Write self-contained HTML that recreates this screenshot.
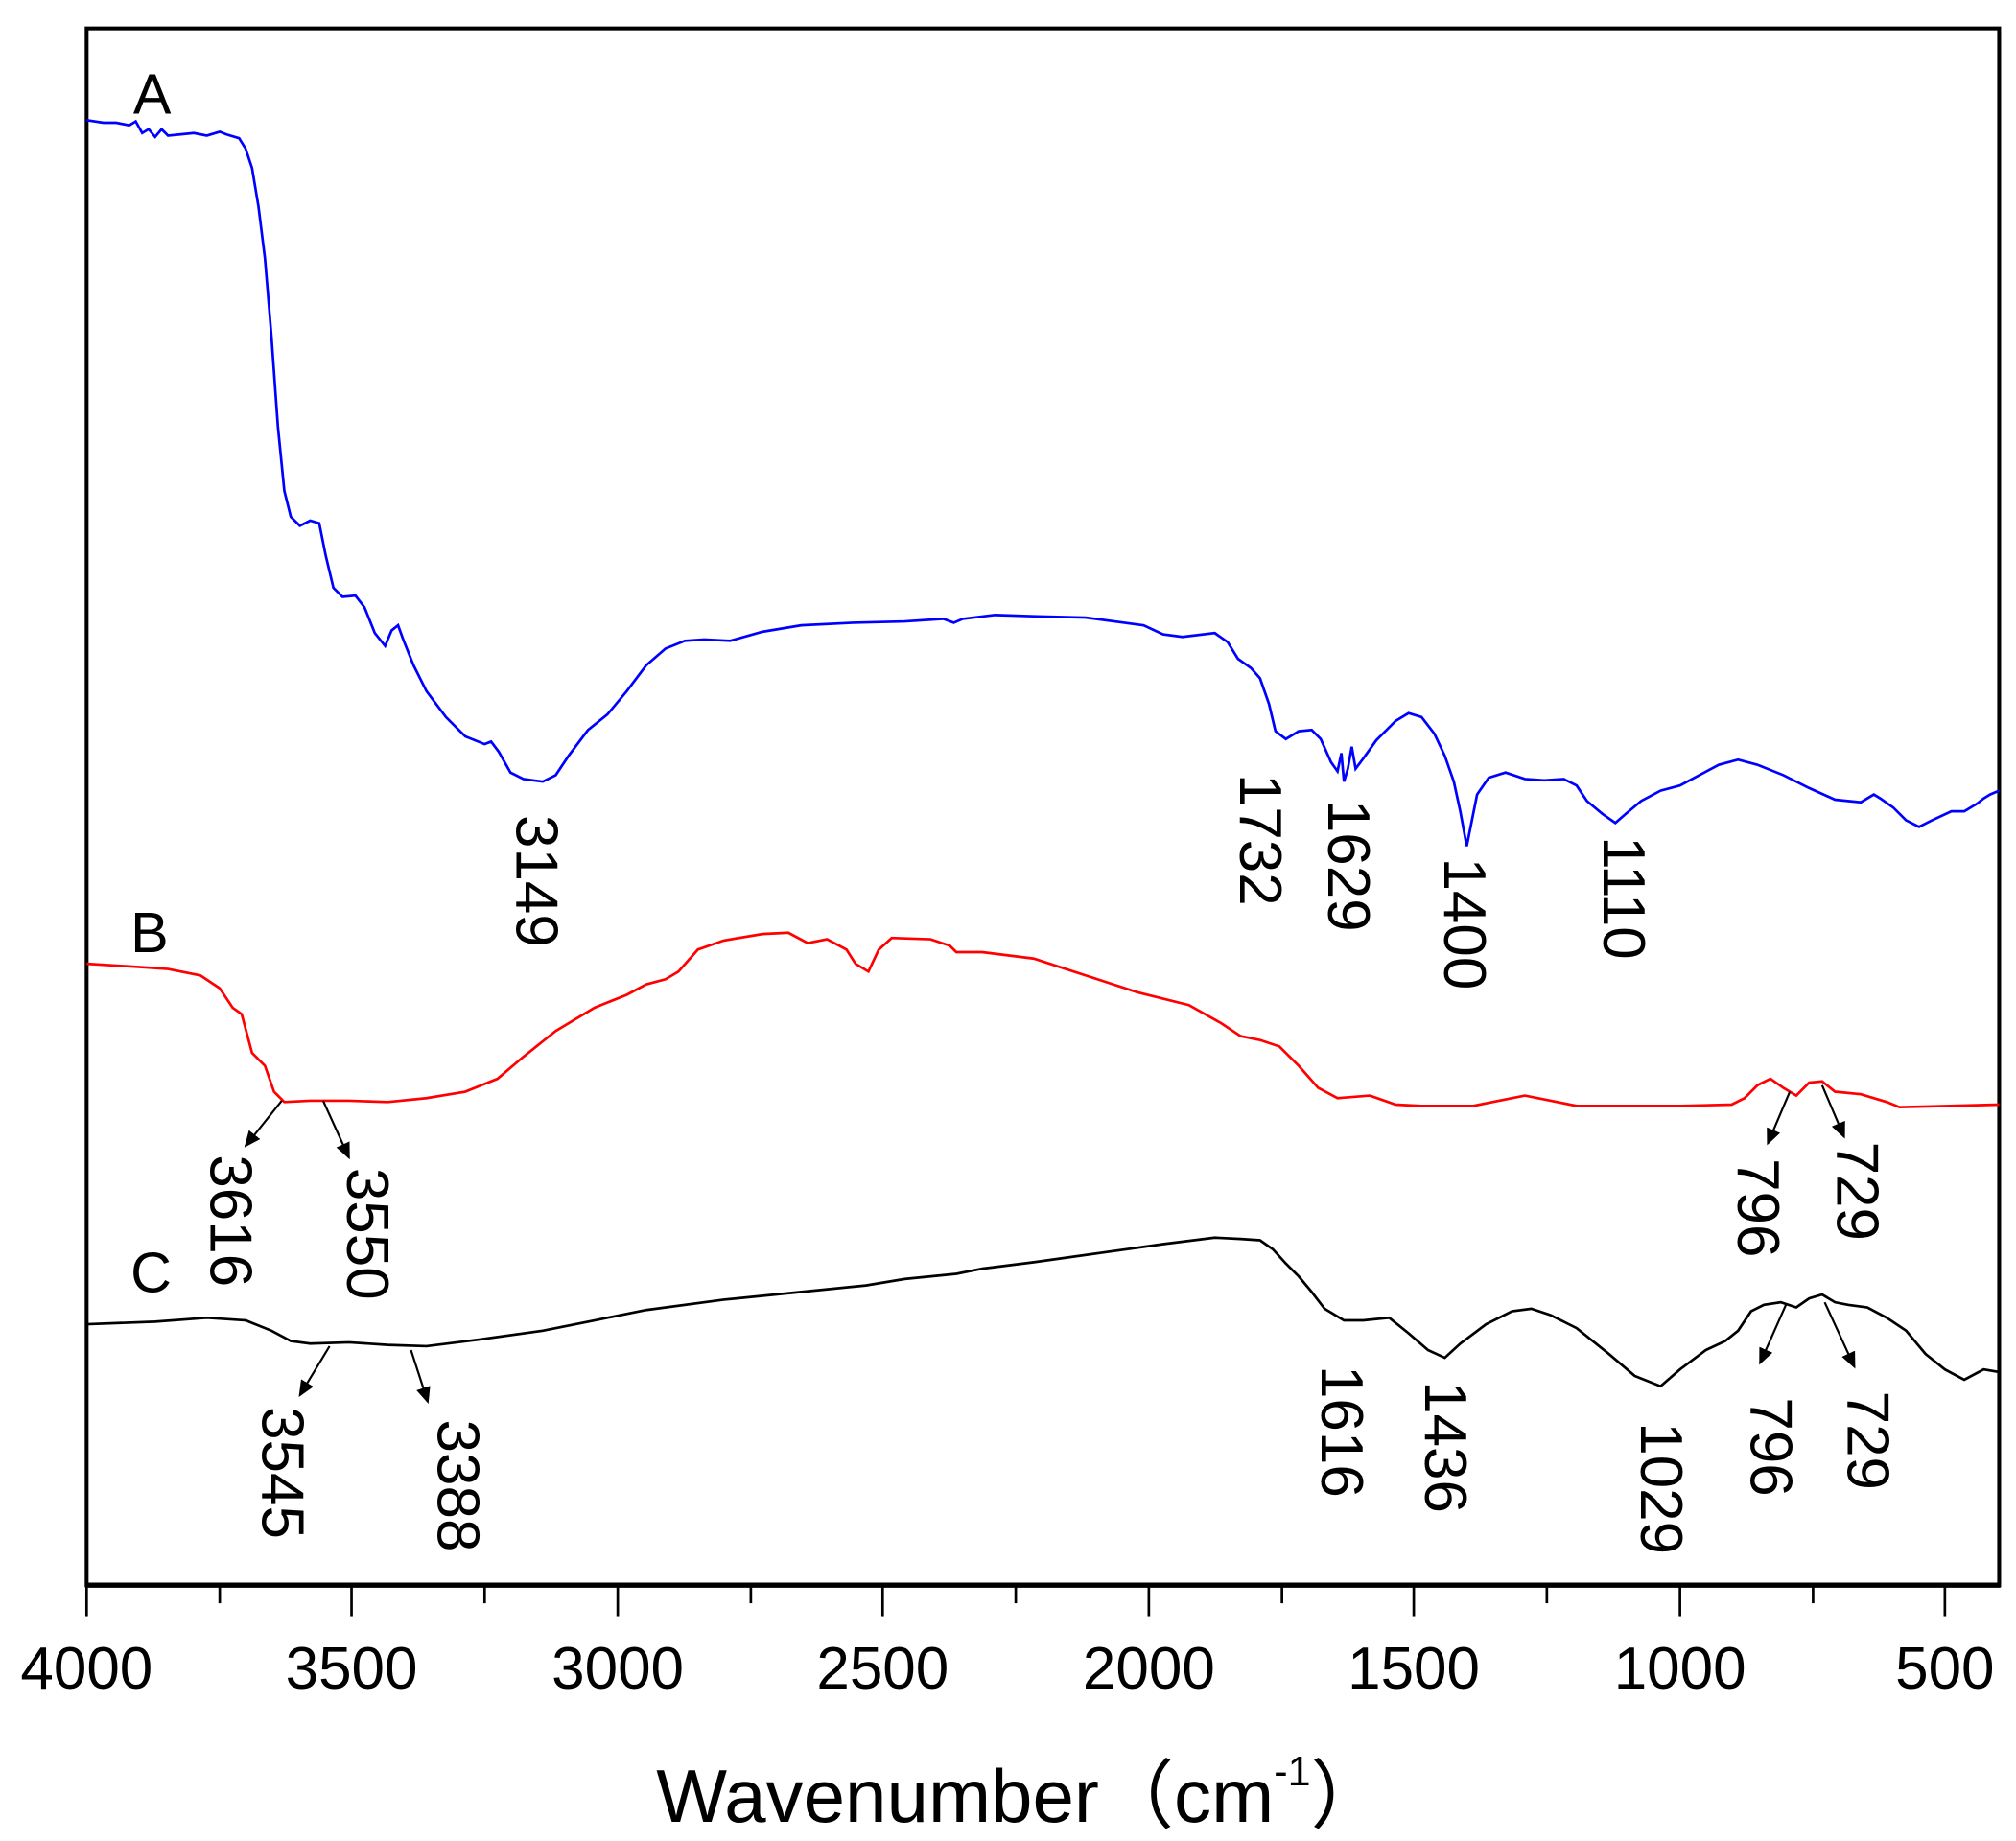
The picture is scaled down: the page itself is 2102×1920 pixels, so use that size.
<!DOCTYPE html>
<html><head><meta charset="utf-8"><style>html,body{margin:0;padding:0;background:#fff}svg{display:block}</style></head>
<body>
<svg width="2102" height="1920" viewBox="0 0 1560 1425" xmlns="http://www.w3.org/2000/svg" font-family="Liberation Sans, Arial, sans-serif">
<defs><marker id="ah" markerWidth="8" markerHeight="8" refX="7" refY="4" orient="auto" markerUnits="strokeWidth"><path d="M0,0.5 L8,4 L0,7.5 Z" fill="#000"/></marker></defs>
<rect x="67" y="22" width="1480" height="1205" fill="none" stroke="#000" stroke-width="3"/>
<line x1="66" y1="1227" x2="1548" y2="1227" stroke="#000" stroke-width="4"/>
<g stroke="#000" stroke-width="2">
<line x1="67" y1="1227" x2="67" y2="1251"/><line x1="170" y1="1227" x2="170" y2="1241"/>
<line x1="272" y1="1227" x2="272" y2="1251"/><line x1="375" y1="1227" x2="375" y2="1241"/>
<line x1="478" y1="1227" x2="478" y2="1251"/><line x1="581" y1="1227" x2="581" y2="1241"/>
<line x1="683" y1="1227" x2="683" y2="1251"/><line x1="786" y1="1227" x2="786" y2="1241"/>
<line x1="889" y1="1227" x2="889" y2="1251"/><line x1="992" y1="1227" x2="992" y2="1241"/>
<line x1="1094" y1="1227" x2="1094" y2="1251"/><line x1="1197" y1="1227" x2="1197" y2="1241"/>
<line x1="1300" y1="1227" x2="1300" y2="1251"/><line x1="1403" y1="1227" x2="1403" y2="1241"/>
<line x1="1505" y1="1227" x2="1505" y2="1251"/>
</g>
<g font-size="46" text-anchor="middle" fill="#000">
<text x="67" y="1307">4000</text><text x="272" y="1307">3500</text><text x="478" y="1307">3000</text><text x="683" y="1307">2500</text>
<text x="889" y="1307">2000</text><text x="1094" y="1307">1500</text><text x="1300" y="1307">1000</text><text x="1505" y="1307">500</text>
</g>
<text x="790" y="1410" font-size="58" text-anchor="middle">Wavenumber（cm<tspan font-size="32" dy="-28">-1</tspan><tspan dy="28">）</tspan></text>
<polyline fill="none" stroke="#0000ff" stroke-width="2" points="67,93 80,95 90,95 100,97 105,94 110,103 115,100 120,106 125,100 130,105 140,104 150,103 160,105 170,102 175,104 185,107 190,115 195,130 200,160 205,200 210,260 215,330 220,380 225,400 232,407 240,403 247,405 252,430 258,455 265,462 275,461 282,470 290,490 298,500 303,488 308,484 312,495 320,515 330,535 345,555 360,570 375,576 380,574 386,582 395,598 405,603 420,605 430,600 440,585 455,565 470,553 485,535 500,515 515,502 530,496 545,495 565,496 590,489 620,484 660,482 700,481 730,479 738,482 745,479 770,476 800,477 840,478 870,482 885,484 900,491 915,493 940,490 950,497 958,510 968,517 975,525 982,545 987,566 995,572 1005,566 1015,565 1022,572 1030,590 1035,597 1038,583 1040,605 1043,595 1046,578 1049,595 1055,587 1065,573 1080,558 1090,552 1100,555 1110,568 1118,585 1125,605 1130,628 1135,655 1138,640 1143,615 1152,602 1165,598 1180,603 1195,604 1210,603 1220,608 1228,620 1240,630 1250,637 1258,630 1270,620 1285,612 1300,608 1315,600 1330,592 1345,588 1360,592 1380,600 1400,610 1420,619 1440,621 1450,615 1455,618 1465,625 1475,635 1485,640 1495,635 1510,628 1520,628 1530,622 1535,618 1540,615 1547,612"/>
<polyline fill="none" stroke="#ff0000" stroke-width="2" points="67,746 100,748 130,750 155,755 170,765 180,780 187,785 195,815 205,825 212,845 220,853 240,852 270,852 300,853 330,850 360,845 385,835 405,818 430,798 460,780 485,770 500,762 515,758 525,752 540,735 560,728 590,723 610,722 625,730 640,727 655,735 662,746 672,752 680,735 690,726 720,727 735,732 740,737 760,737 800,742 840,755 880,768 920,778 945,792 960,802 975,805 990,810 1005,825 1020,842 1035,850 1060,848 1080,855 1100,856 1140,856 1160,852 1180,848 1200,852 1220,856 1300,856 1340,855 1350,850 1360,840 1370,835 1380,842 1390,848 1400,838 1410,837 1420,845 1440,847 1460,853 1470,857 1547,855"/>
<polyline fill="none" stroke="#000" stroke-width="2" points="67,1025 120,1023 160,1020 190,1022 210,1030 225,1038 240,1040 270,1039 300,1041 330,1042 370,1037 420,1030 460,1022 500,1014 560,1006 620,1000 670,995 700,990 740,986 760,982 800,977 850,970 900,963 940,958 960,959 975,960 985,967 995,978 1005,988 1015,1000 1025,1013 1040,1022 1055,1022 1075,1020 1090,1032 1105,1045 1118,1051 1130,1040 1150,1025 1170,1015 1185,1013 1200,1018 1220,1028 1245,1048 1265,1065 1285,1073 1300,1060 1320,1045 1335,1038 1345,1030 1355,1015 1365,1010 1378,1008 1390,1012 1400,1005 1410,1002 1420,1008 1430,1010 1445,1012 1460,1020 1475,1030 1490,1048 1505,1060 1520,1068 1535,1060 1547,1062"/>
<g stroke="#000" stroke-width="1.6" marker-end="url(#ah)">
<line x1="218" y1="852" x2="190" y2="887"/><line x1="250" y1="852" x2="270" y2="896"/>
<line x1="1385" y1="845" x2="1368" y2="885"/><line x1="1410" y1="840" x2="1427" y2="880"/>
<line x1="255" y1="1042" x2="232" y2="1080"/><line x1="318" y1="1045" x2="331" y2="1085"/>
<line x1="1382" y1="1010" x2="1362" y2="1055"/><line x1="1412" y1="1008" x2="1435" y2="1058"/>
</g>
<g font-size="44" fill="#000">
<text x="103" y="88">A</text><text x="101" y="737">B</text><text x="101" y="1000">C</text>
</g>
<g font-size="46" text-anchor="middle" fill="#000" dominant-baseline="central">
<text transform="translate(415,682) rotate(90)">3149</text>
<text transform="translate(975,650) rotate(90)">1732</text>
<text transform="translate(1043,670) rotate(90)">1629</text>
<text transform="translate(1133,715) rotate(90)">1400</text>
<text transform="translate(1256,695) rotate(90)">1110</text>
<text transform="translate(178,945) rotate(90)">3616</text>
<text transform="translate(284,955) rotate(90)">3550</text>
<text transform="translate(1360,935) rotate(90)">796</text>
<text transform="translate(1437,922) rotate(90)">729</text>
<text transform="translate(218,1140) rotate(90)">3545</text>
<text transform="translate(354,1150) rotate(90)">3388</text>
<text transform="translate(1038,1108) rotate(90)">1616</text>
<text transform="translate(1118,1120) rotate(90)">1436</text>
<text transform="translate(1285,1152) rotate(90)">1029</text>
<text transform="translate(1370,1120) rotate(90)">796</text>
<text transform="translate(1445,1115) rotate(90)">729</text>
</g>
</svg>
</body></html>
